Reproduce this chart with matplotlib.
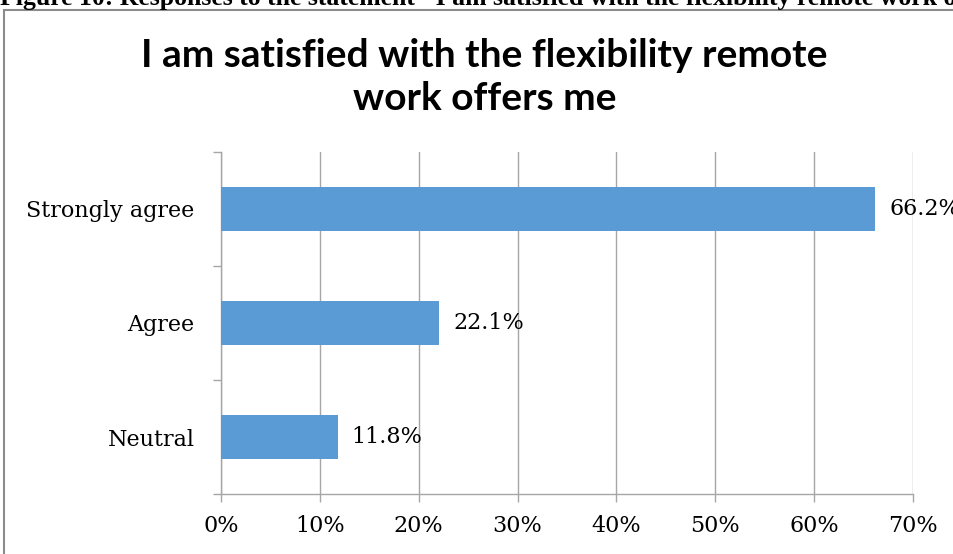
import matplotlib.pyplot as plt
from matplotlib.patches import Rectangle

# survey responses, bottom to top
categories = ["Neutral", "Agree", "Strongly agree"]
shares = [11.8, 22.1, 66.2]
x_ticks = [0, 10, 20, 30, 40, 50, 60, 70]

caption = 'Figure 10: Responses to the statement "I am satisfied with the flexibility remote work offers me"'
title = "I am satisfied with the flexibility remote\nwork offers me"

bar_color = "#5B9BD5"
grid_color = "#a6a6a6"
label_font = "DejaVu Serif"

fig = plt.figure(figsize=(9.54, 5.54), dpi=100)

# chart frame (runs off the right and bottom edges)
fig.patches.append(Rectangle((4 / 954, -0.05), 1.2, 1 - 10 / 554 + 0.05,
                             transform=fig.transFigure, fill=False,
                             edgecolor="#8c8c8c", linewidth=1.5))

# document caption sitting above the chart
fig.text(0.0, 1 - 5 / 554, caption, fontsize=18.5, fontweight="bold",
         family="Liberation Serif", ha="left", va="baseline")

fig.text(0.508, 1 - 77 / 554, title, fontsize=28, fontweight="bold",
         family="Lato", ha="center", va="center", linespacing=1.25)

ax = fig.add_axes([221 / 954, 1 - 494 / 554, (913 - 221) / 954, (494 - 152) / 554])

ypos = list(range(len(categories)))
ax.barh(ypos, shares, height=0.39, color=bar_color, zorder=3)

for y, v in zip(ypos, shares):
    ax.text(v + 1.4, y, f"{v:.1f}%", va="center", ha="left",
            fontsize=16, family=label_font, zorder=4)

ax.set_xlim(0, 70)
ax.set_ylim(-0.5, len(categories) - 0.5)
ax.set_xticks(x_ticks)
ax.set_xticklabels([f"{t}%" for t in x_ticks], family=label_font, fontsize=16)
ax.set_yticks(ypos)
ax.set_yticklabels(categories, family=label_font, fontsize=16)
ax.set_yticks([-0.5, 0.5, 1.5, 2.5], minor=True)

ax.tick_params(axis="y", which="major", length=0, pad=19)
ax.tick_params(axis="y", which="minor", length=5.5, color=grid_color, width=1)
ax.tick_params(axis="x", length=6, color=grid_color, width=1, pad=9)

ax.grid(axis="x", color=grid_color, linewidth=1, zorder=0)
for side in ["top", "right"]:
    ax.spines[side].set_visible(False)
for side in ["left", "bottom"]:
    ax.spines[side].set_color(grid_color)
    ax.spines[side].set_linewidth(1)

fig.savefig("out.png", dpi=100)
